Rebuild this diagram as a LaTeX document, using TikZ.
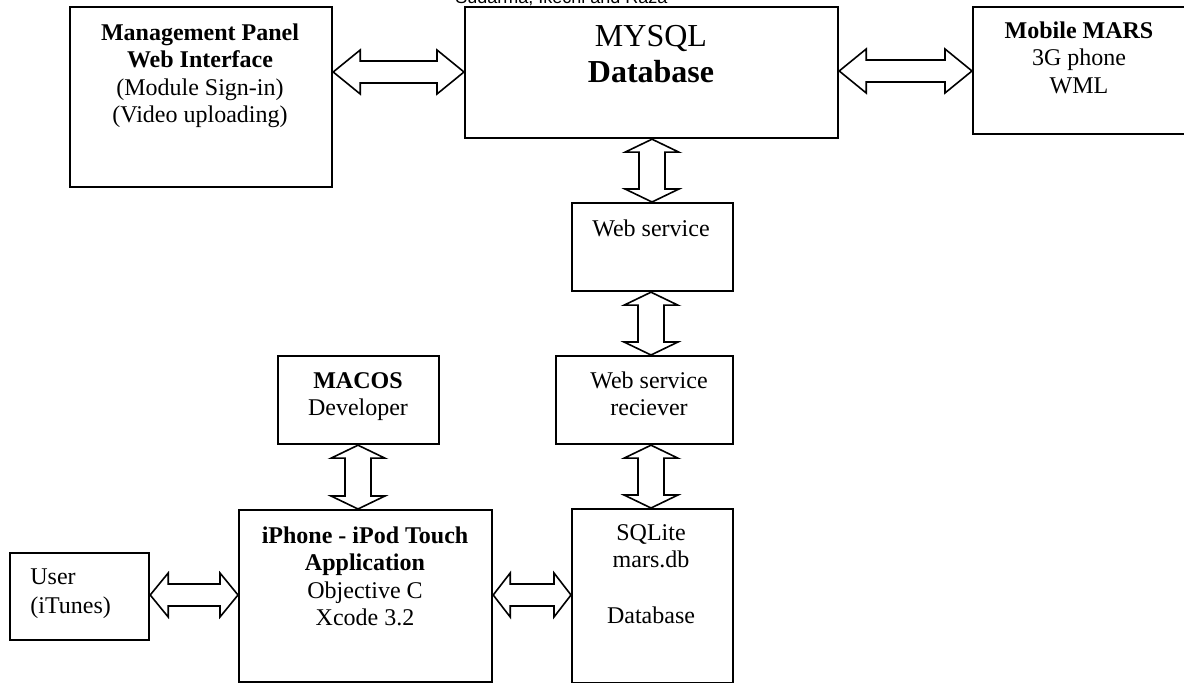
\documentclass[tikz,border=0pt]{standalone}
\usepackage{fontspec}
\setmainfont{Liberation Serif}
\newfontfamily\hdrfont{Liberation Sans}
\usetikzlibrary{calc}
\tikzset{
  box/.style={draw, line width=1.1pt, rectangle, inner sep=0pt, anchor=north west},
  txt/.style={inner sep=0pt, align=center, anchor=north, font=\fontsize{12}{13.8}\selectfont},
  bigtxt/.style={inner sep=0pt, align=center, anchor=north, font=\fontsize{16}{18.2}\selectfont},
  dbl/.style={draw, fill=white, line width=0.8pt, line join=miter},
}
% horizontal double arrow: #1 left anchor, #2 right anchor, #3 y (px), #4 head length (px)
\newcommand\hdarrow[4]{%
  \draw[dbl] let \p1=(#1 |- 0,#3), \p2=(#2 |- 0,#3) in
    (\x1,\y1) -- (\x1+#4*0.5pt,\y1+11pt) -- (\x1+#4*0.5pt,\y1+5.5pt)
    -- (\x2-#4*0.5pt,\y1+5.5pt) -- (\x2-#4*0.5pt,\y1+11pt) -- (\x2,\y1)
    -- (\x2-#4*0.5pt,\y1-11pt) -- (\x2-#4*0.5pt,\y1-5.5pt)
    -- (\x1+#4*0.5pt,\y1-5.5pt) -- (\x1+#4*0.5pt,\y1-11pt) -- cycle;}
% vertical double arrow: #1 top anchor, #2 bottom anchor, #3 x (px)
\newcommand\vdarrow[3]{%
  \draw[dbl] let \p1=(#3,0 |- #1), \p2=(#3,0 |- #2) in
    (\x1,\y1) -- (\x1+13.5pt,\y1-6.5pt) -- (\x1+6.5pt,\y1-6.5pt)
    -- (\x1+6.5pt,\y2+6.5pt) -- (\x1+13.5pt,\y2+6.5pt) -- (\x1,\y2)
    -- (\x1-13.5pt,\y2+6.5pt) -- (\x1-6.5pt,\y2+6.5pt)
    -- (\x1-6.5pt,\y1-6.5pt) -- (\x1-13.5pt,\y1-6.5pt) -- cycle;}
\begin{document}
\begin{tikzpicture}[x=0.5pt,y=-0.5pt]
\useasboundingbox (0,0) rectangle (1184,683);
\clip (0,0) rectangle (1184,683);
\fill[white] (0,0) rectangle (1184,683);

% running header (cut off at the top)
\node[inner sep=0pt, anchor=base west, font=\hdrfont\fontsize{9}{10}\selectfont] (hdr) at (455,4) {Sudarma, Ikechi and Raza};

% boxes
\node[box, minimum width=131pt, minimum height=90pt] (mgmt) at (69,6) {};
\node[box, minimum width=186.5pt, minimum height=65.5pt] (db) at (464,6) {};
\node[box, minimum width=114pt, minimum height=63.5pt] (mobile) at (972,6) {};
\node[box, minimum width=80.5pt, minimum height=44pt] (ws) at (571,202) {};
\node[box, minimum width=88.5pt, minimum height=44pt] (wsr) at (555,355) {};
\node[box, minimum width=80.5pt, minimum height=44pt] (macos) at (277,355) {};
\node[box, minimum width=126.5pt, minimum height=86pt] (iphone) at (238,509) {};
\node[box, minimum width=80.5pt, minimum height=87pt] (sqlite) at (571,508) {};
\node[box, minimum width=69.5pt, minimum height=43.5pt] (user) at (9,552) {};

% texts
\node[txt] (mgmtT) at (200,23) {\textbf{Management Panel}\\\textbf{Web Interface}\\(Module Sign-in)\\(Video uploading)};
\node[bigtxt] (dbT) at (651,25) {MYSQL\\\textbf{Database}};
\node[txt] (mobileT) at (1079,21) {\textbf{Mobile MARS}\\3G phone\\WML};
\node[txt] (wsT) at (651,219) {Web service};
\node[txt] (wsrT) at (649,371) {Web service\\reciever};
\node[txt] (macosT) at (358,372) {\textbf{MACOS}\\Developer};
\node[txt] (iphoneT) at (365,526) {\textbf{iPhone - iPod Touch}\\\textbf{Application}\\Objective C\\Xcode 3.2};
\node[txt] (sqliteT) at (651,524) {SQLite\\mars.db\\[13.8pt]Database};
\node[txt, anchor=north west, align=left, font=\fontsize{12}{14.5}\selectfont] (userT) at (30,568) {User\\(iTunes)};

% connectors
\hdarrow{mgmt.east}{db.west}{72}{27}
\hdarrow{db.east}{mobile.west}{71}{27}
\hdarrow{user.east}{iphone.west}{595}{18}
\hdarrow{iphone.east}{sqlite.west}{595}{17}
\vdarrow{db.south}{ws.north}{652}
\vdarrow{ws.south}{wsr.north}{651}
\vdarrow{wsr.south}{sqlite.north}{651}
\vdarrow{macos.south}{iphone.north}{358}
\end{tikzpicture}
\end{document}
